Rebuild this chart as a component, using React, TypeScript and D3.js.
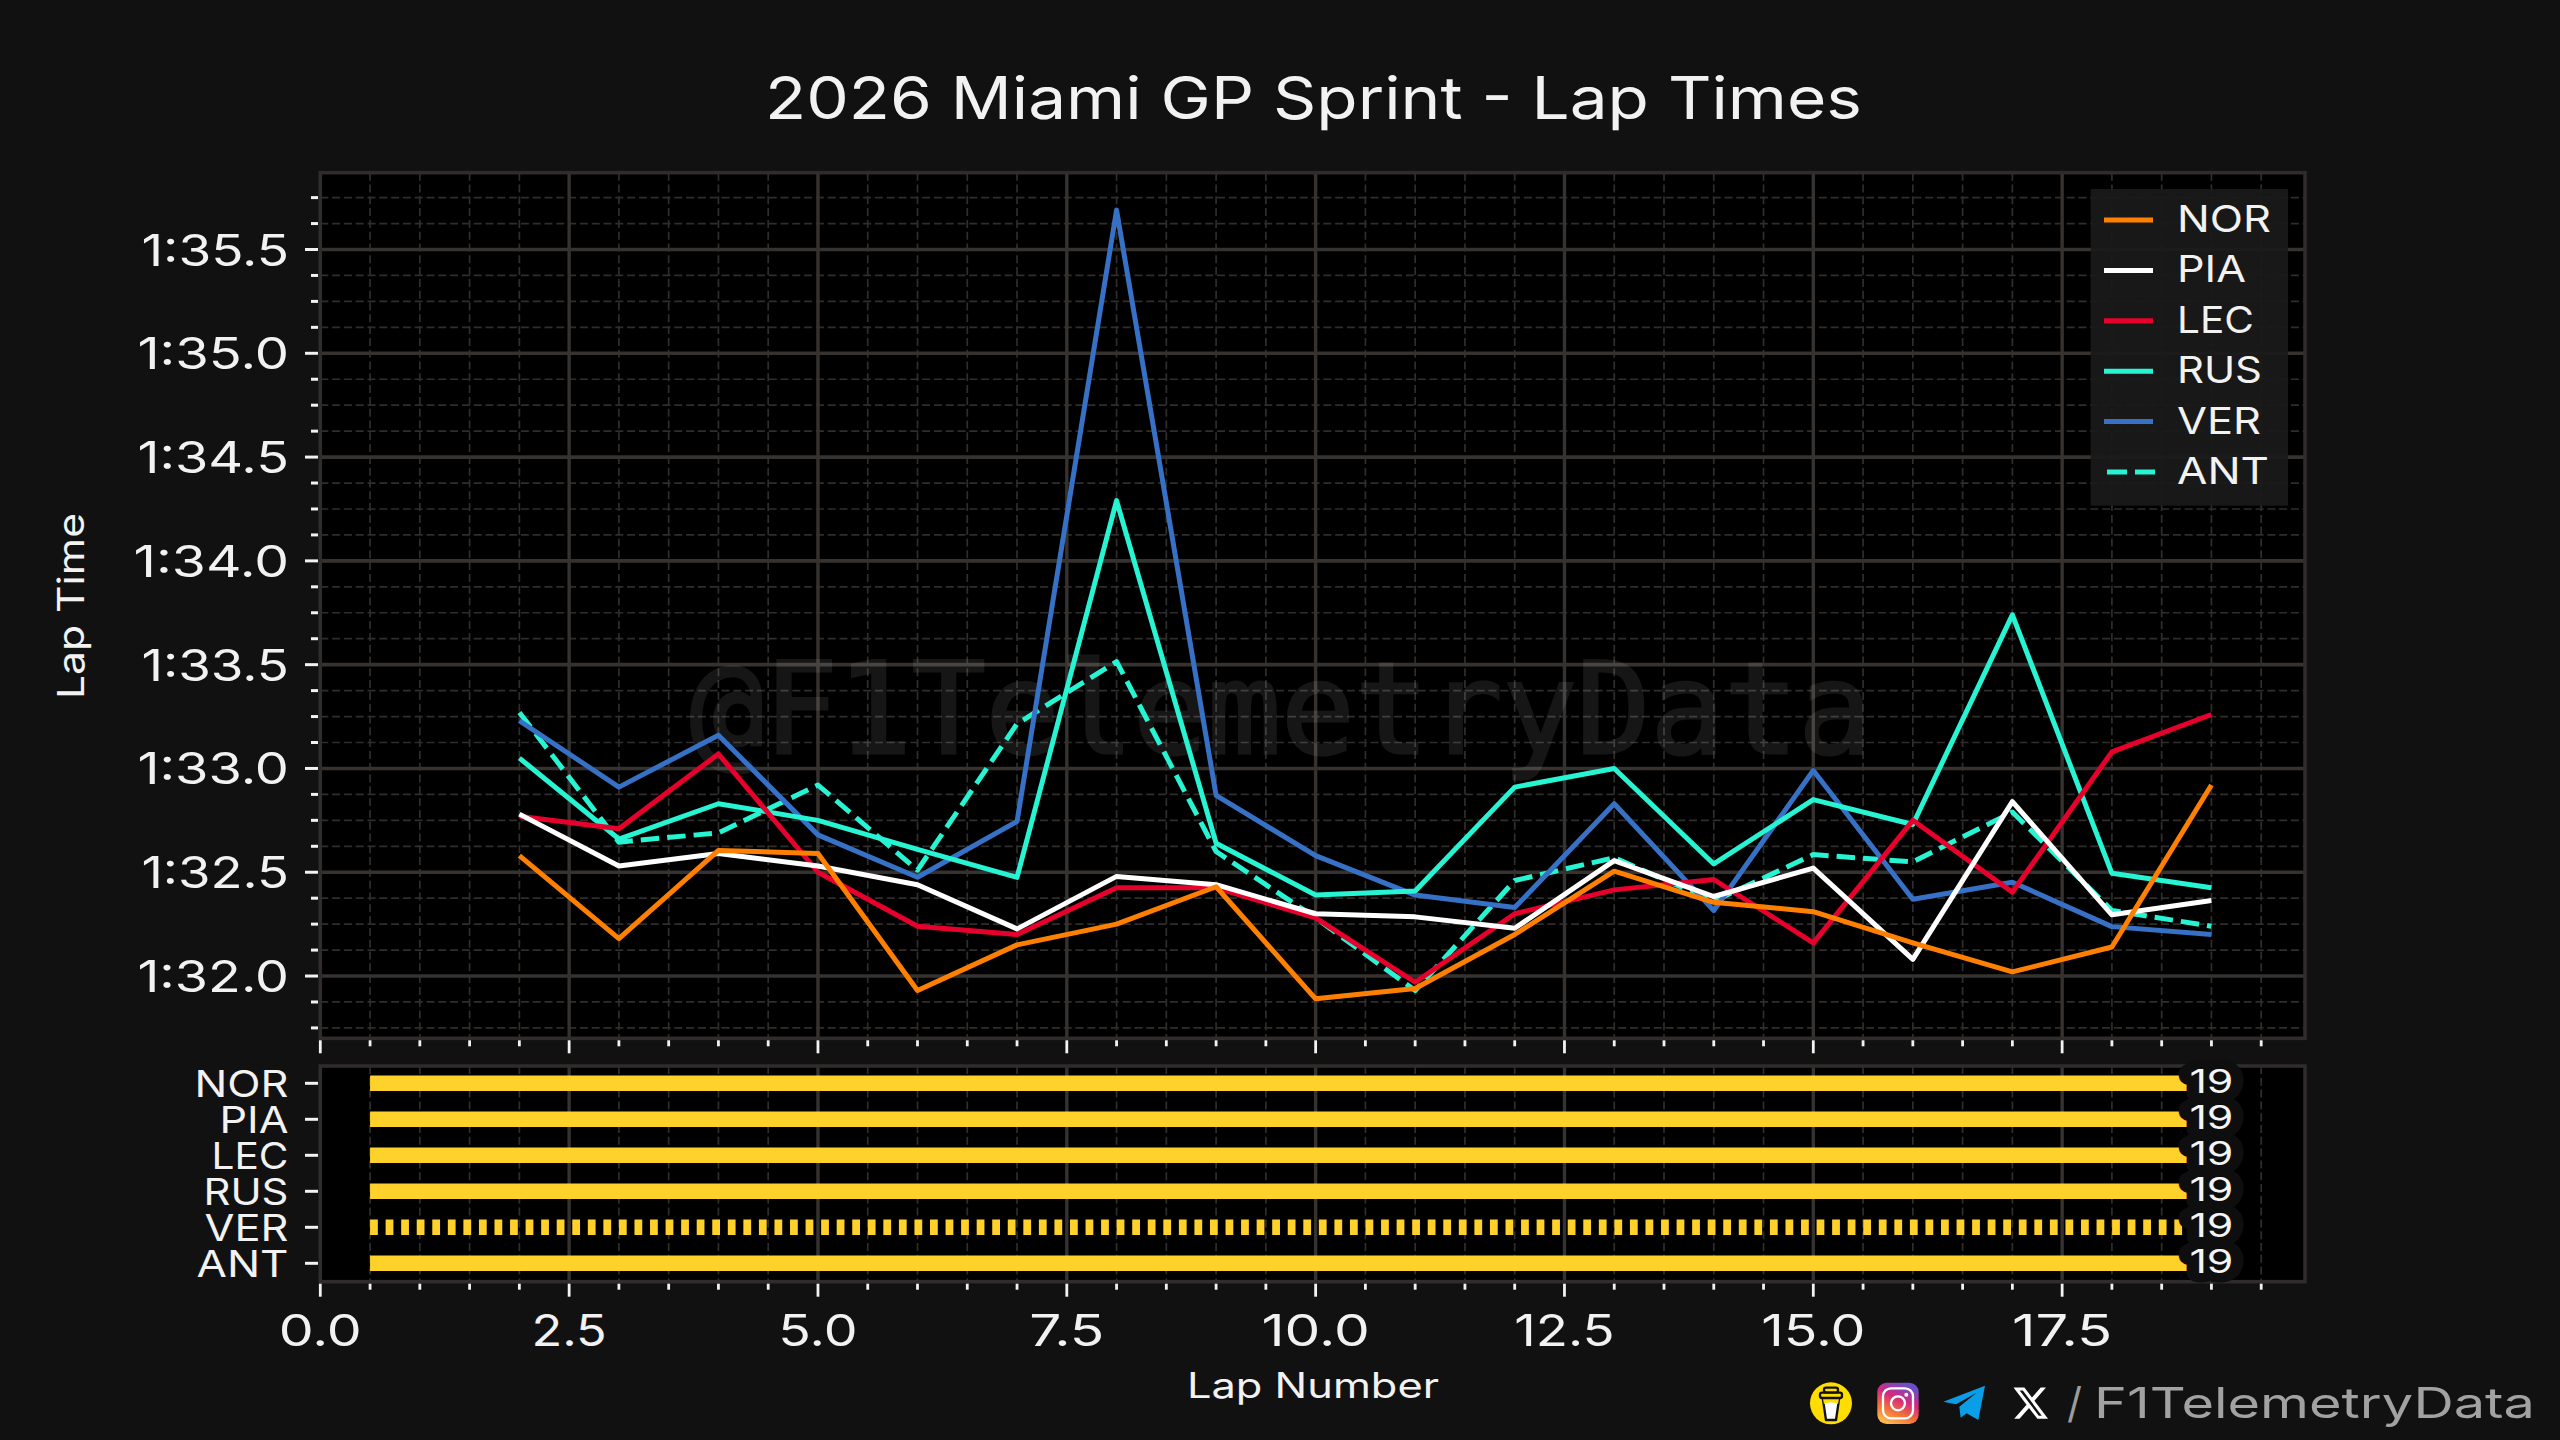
import React from "react";
import * as d3 from "d3";

const drivers = ["NOR", "PIA", "LEC", "RUS", "VER", "ANT"];
const laps = [2, 3, 4, 5, 6, 7, 8, 9, 10, 11, 12, 13, 14, 15, 16, 17, 18, 19];
const NOR = [92.58, 92.18, 92.605, 92.59, 91.93, 92.15, 92.25, 92.43, 91.89, 91.94, 92.2, 92.505, 92.355, 92.31, 92.16, 92.02, 92.14, 92.92];
const PIA = [92.78, 92.53, 92.59, 92.53, 92.44, 92.227, 92.48, 92.44, 92.3, 92.285, 92.23, 92.556, 92.383, 92.52, 92.08, 92.84, 92.295, 92.364];
const LEC = [92.77, 92.71, 93.07, 92.5, 92.24, 92.2, 92.425, 92.425, 92.28, 91.97, 92.3, 92.415, 92.465, 92.16, 92.75, 92.404, 93.08, 93.26];
const RUS = [93.05, 92.66, 92.83, 92.75, 92.61, 92.475, 94.29, 92.64, 92.39, 92.41, 92.91, 93.0, 92.54, 92.85, 92.73, 93.74, 92.495, 92.425];
const VER = [93.23, 92.91, 93.16, 92.68, 92.476, 92.745, 95.69, 92.87, 92.58, 92.39, 92.33, 92.83, 92.315, 92.99, 92.37, 92.452, 92.238, 92.2];
const ANT = [93.27, 92.645, 92.69, 92.92, 92.51, 93.215, 93.515, 92.6, 92.28, 91.93, 92.46, 92.57, 92.36, 92.585, 92.55, 92.79, 92.316, 92.24];
const seriesByDriver: Record<string, number[]> = { NOR, PIA, LEC, RUS, VER, ANT };
const colors: Record<string, string> = { NOR: "#FF8000", PIA: "#FFFFFF", LEC: "#E8002D", RUS: "#27F4D2", VER: "#3671C6", ANT: "#27F4D2" };
const dashedLines = ["ANT"];
const stintStart = [0.5, 0.5, 0.5, 0.5, 0.5, 0.5];
const stintEnd = [19, 19, 19, 19, 19, 19];
const lapsDone = [19, 19, 19, 19, 19, 19];
const hatched = ["VER"];
const xMajor = [0, 2.5, 5, 7.5, 10, 12.5, 15, 17.5];
const yMajor = [92, 92.5, 93, 93.5, 94, 94.5, 95, 95.5];

const W = 2560, H = 1440;
const font = "Inter, 'Noto Sans', sans-serif";
const x = d3.scaleLinear([0, 19.94], [320.3, 2305]);
const y = d3.scaleLinear([91.7, 95.87], [1038.3, 172.7]);
const yDrv = d3.scalePoint(drivers, [1083.3, 1263.3]);
const xMinor = d3.range(0, 19.75, 0.5).filter(v => !xMajor.includes(v));
const yMinor = d3.range(91.75, 95.8, 0.125).filter(v => !yMajor.includes(v));
const P1 = { t: 172.7, b: 1038.3 };
const P2 = { t: 1066, b: 1281.7 };
const L = 320.3, R = 2305;

const glyph: Record<string, number> = { "1": 0.57, ":": 0.24, ".": 0.27, "0": 0.81, "4": 0.81, "2": 0.72, "3": 0.72, "5": 0.72, "7": 0.72 };
const numW = (s: string, size: number) => s.split("").reduce((a, c) => a + (glyph[c] ?? 0.72), 0) * size;
const drvW: Record<string, number> = { NOR: 94, PIA: 69, LEC: 77, RUS: 85, VER: 84, ANT: 92 };
const fmtTime = (v: number) => `1:${(v - 60).toFixed(1)}`;

function T({ x, y, size, w, anchor = "start", fill = "#f2f2f2", transform, children, style }: any) {
  return (
    <text x={x} y={y} fontSize={size} textAnchor={anchor} fill={fill} fontFamily={font} transform={transform}
      textLength={w} lengthAdjust="spacingAndGlyphs" style={style}>{children}</text>
  );
}

function Grid({ top, bottom, horizontal }: { top: number; bottom: number; horizontal: boolean }) {
  return (
    <g>
      <rect x={L} y={top} width={R - L} height={bottom - top} fill="#000" />
      {xMinor.map(v => <line key={v} x1={x(v)} x2={x(v)} y1={top} y2={bottom} stroke="#302e2c" strokeWidth={1.7} strokeDasharray="8 3.8" />)}
      {horizontal && yMinor.map(v => <line key={v} x1={L} x2={R} y1={y(v)} y2={y(v)} stroke="#302e2c" strokeWidth={1.7} strokeDasharray="8 3.8" />)}
      {xMajor.filter(v => v > 0).map(v => <line key={v} x1={x(v)} x2={x(v)} y1={top} y2={bottom} stroke="#36322f" strokeWidth={3.4} />)}
      {horizontal && yMajor.map(v => <line key={v} x1={L} x2={R} y1={y(v)} y2={y(v)} stroke="#36322f" strokeWidth={3.6} />)}
    </g>
  );
}

function Spine({ top, bottom }: { top: number; bottom: number }) {
  return <rect x={L} y={top} width={R - L} height={bottom - top} fill="none" stroke="#2f2c2b" strokeWidth={3.6} />;
}

function XTicks({ bottom }: { bottom: number }) {
  return (
    <g stroke="#f2f2f2" strokeWidth={2.8}>
      {xMajor.map(v => <line key={v} x1={x(v)} x2={x(v)} y1={bottom + 2} y2={bottom + 15} />)}
      {xMinor.map(v => <line key={v} x1={x(v)} x2={x(v)} y1={bottom + 2} y2={bottom + 8} />)}
    </g>
  );
}

export default function App() {
  const line = d3.line<number>().x((_, i) => x(laps[i])).y(d => y(d));
  return (
    <svg width={W} height={H} viewBox={`0 0 ${W} ${H}`} style={{ position: "absolute", left: 0, top: 0, display: "block", background: "#111111" }}>
      <defs>
        <linearGradient id="ig" x1="0.15" y1="1" x2="0.6" y2="0">
          <stop offset="0" stopColor="#fdc64e" />
          <stop offset="0.35" stopColor="#f2703a" />
          <stop offset="0.65" stopColor="#d6287f" />
          <stop offset="1" stopColor="#6a4fc9" />
        </linearGradient>
        <clipPath id="p1"><rect x={L} y={P1.t} width={R - L} height={P1.b - P1.t} /></clipPath>
      </defs>

      <T x={765} y={119} size={59} w={1097}>2026 Miami GP Sprint - Lap Times</T>

      {/* top panel */}
      <Grid top={P1.t} bottom={P1.b} horizontal />
      <g opacity={0.085}>
        <text x={1281} y={753} fontSize={126} fontFamily="'DejaVu Sans Mono', monospace" fill="#ffffff" stroke="#ffffff" strokeWidth={3}
          textAnchor="middle" textLength={1182} lengthAdjust="spacingAndGlyphs">@F1TelemetryData</text>
      </g>
      <g clipPath="url(#p1)">
        {[...drivers].reverse().map(d => (
          <path key={d} d={line(seriesByDriver[d]) ?? ""} fill="none" stroke={colors[d]} strokeWidth={5}
            strokeLinejoin="round" strokeDasharray={dashedLines.includes(d) ? "18.5 8" : undefined} />
        ))}
      </g>
      <Spine top={P1.t} bottom={P1.b} />
      <XTicks bottom={P1.b} />
      <g stroke="#f2f2f2" strokeWidth={3}>
        {yMajor.map(v => <line key={v} x1={305} x2={318} y1={y(v)} y2={y(v)} />)}
        {yMinor.map(v => <line key={v} x1={311} x2={318} y1={y(v)} y2={y(v)} />)}
      </g>
      {yMajor.map(v => {
        const s = fmtTime(v);
        return <T key={v} x={289} y={y(v) + 16} size={44} anchor="end" w={numW(s, 44) + 5}>{s}</T>;
      })}
      <T x={84} y={606} size={37} anchor="middle" w={186} transform="rotate(-90 84 606)">Lap Time</T>

      {/* legend */}
      <rect x={2090.7} y={189} width={197.3} height={316.7} fill="#1a1a1a" fillOpacity={0.93} />
      {drivers.map((d, i) => {
        const ly = 220 + i * 50.4;
        return (
          <g key={d}>
            <line x1={2104} x2={2153} y1={ly} y2={ly} stroke={colors[d]} strokeWidth={5}
              strokeDasharray={dashedLines.includes(d) ? "20 8" : undefined} transform={dashedLines.includes(d) ? "translate(3 0)" : undefined} />
            <T x={2177} y={ly + 12} size={37} w={drvW[d]}>{d}</T>
          </g>
        );
      })}

      {/* bottom panel */}
      <Grid top={P2.t} bottom={P2.b} horizontal={false} />
      {drivers.map((d, i) => (
        <line key={d} x1={x(stintStart[i])} x2={x(stintEnd[i])} y1={yDrv(d)} y2={yDrv(d)} stroke="#FFD12B" strokeWidth={15.4}
          strokeDasharray={hatched.includes(d) ? "7.77 7.784" : undefined} />
      ))}
      <Spine top={P2.t} bottom={P2.b} />
      <XTicks bottom={P2.b} />
      {drivers.map((d, i) => (
        <g key={d}>
          <line x1={305} x2={318} y1={yDrv(d)} y2={yDrv(d)} stroke="#f2f2f2" strokeWidth={3} />
          <T x={288.5} y={(yDrv(d) as number) + 13.4} size={37} anchor="end" w={drvW[d]}>{d}</T>
          <text x={x(lapsDone[i])} y={(yDrv(d) as number) + 9.5} fontSize={32} fontFamily={font} textAnchor="middle" fill="#f4f4f4"
            stroke="#0e0e0e" strokeWidth={19} strokeLinejoin="round" style={{ paintOrder: "stroke" }}
            textLength={44} lengthAdjust="spacingAndGlyphs">{lapsDone[i]}</text>
        </g>
      ))}
      {xMajor.map(v => {
        const s = v.toFixed(1);
        return <T key={v} x={x(v)} y={1346} size={44} anchor="middle" w={numW(s, 44)}>{s}</T>;
      })}
      <T x={1313} y={1398} size={35} anchor="middle" w={252}>Lap Number</T>

      {/* footer */}
      <g transform="translate(1790 1370) scale(0.3333)">
        <circle cx={123} cy={100} r={63} fill="#FFDD00" />
        <path d="M98 82 L148 82 L138 150 L108 150 Z" fill="#fff" stroke="#111" strokeWidth={7} strokeLinejoin="round" />
        <path d="M98 82 L148 82 L144 102 Q122 92 102 102 Z" fill="#FFDD00" />
        <rect x={90} y={68} width={66} height={16} rx={6} fill="#FFDD00" stroke="#111" strokeWidth={7} />
        <rect x={102} y={53} width={42} height={14} rx={6} fill="#FFDD00" stroke="#111" strokeWidth={7} />
        <rect x={262} y={38} width={124} height={124} rx={28} fill="url(#ig)" />
        <rect x={279} y={55} width={90} height={90} rx={24} fill="none" stroke="#fff" strokeWidth={7} />
        <circle cx={324} cy={100} r={21} fill="none" stroke="#fff" strokeWidth={7} />
        <circle cx={349} cy={74} r={6} fill="#fff" />
        <path d="M460 95 L585 47 L565 150 L530 130 L512 143 L508 110 L560 68 L498 103 Z" fill="#0a9ee8" />
      </g>
      <g transform="translate(2011.5 1384) scale(1.6)">
        <path fill="#fff" d="M18.244 2.25h3.308l-7.227 8.26 8.502 11.24H16.17l-5.214-6.817L4.99 21.75H1.68l7.73-8.835L1.254 2.25H8.08l4.713 6.231zm-1.161 17.52h1.833L7.084 4.126H5.117z" />
      </g>
      <T x={2067} y={1418} size={42} fill="#9c9c9c" w={15}>/</T>
      <T x={2094} y={1418} size={42} fill="#a2a2a2" w={441}>F1TelemetryData</T>
    </svg>
  );
}
